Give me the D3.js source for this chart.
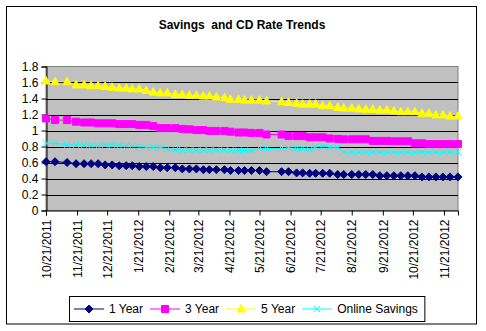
<!DOCTYPE html>
<html>
<head>
<script src="https://d3js.org/d3.v7.min.js"></script>
  <style type="text/css">
    body {
      margin: 0;
      background: #fff;
      font-family: "Liberation Sans", Arial, Helvetica, sans-serif;
    }
    text {
      font-size: 12px;
      fill: #000;
    }
  </style>
</head>
<body>
<script type="text/javascript">

  // data
  var dates = ["10/21/2011","10/30/2011","11/11/2011","11/20/2011","11/28/2011","12/5/2011","12/12/2011","12/19/2011","12/26/2011",
    "1/2/2012","1/9/2012","1/15/2012","1/22/2012","1/29/2012","2/5/2012","2/12/2012","2/19/2012","2/27/2012",
    "3/5/2012","3/12/2012","3/19/2012","3/26/2012","4/1/2012","4/8/2012","4/16/2012","4/22/2012","4/30/2012",
    "5/6/2012","5/13/2012","5/21/2012","5/28/2012","6/12/2012","6/19/2012","6/27/2012","7/3/2012","7/10/2012",
    "7/16/2012","7/23/2012","7/30/2012","8/7/2012","8/13/2012","8/21/2012","8/28/2012","9/4/2012","9/11/2012",
    "9/18/2012","9/25/2012","10/2/2012","10/9/2012","10/16/2012","10/23/2012","10/30/2012","11/6/2012","11/13/2012",
    "11/20/2012","11/27/2012","12/5/2012"];

  var oneYear = [0.61,0.61,0.60,0.585,0.585,0.585,0.585,0.57,0.57,0.56,0.56,0.56,0.55,0.55,0.55,0.535,0.535,0.535,
    0.52,0.52,0.52,0.51,0.51,0.51,0.51,0.50,0.50,0.50,
    0.50,0.50,0.485,0.485,0.485,0.47,0.47,0.465,0.465,0.465,0.465,0.45,0.45,0.45,0.45,0.45,0.45,
    0.435,0.435,0.435,0.435,0.435,0.435,0.42,0.42,0.42,0.42,0.42,0.42];

  var threeYear = [1.15,1.13,1.13,1.11,1.10,1.10,1.09,1.09,1.09,1.08,1.08,1.08,1.07,1.07,
    1.055,1.03,1.03,1.03,1.02,1.015,1.005,1.005,0.995,0.995,0.995,0.985,0.975,0.975,0.97,
    0.97,0.95,0.95,0.93,0.93,0.93,0.915,0.915,0.915,0.90,0.895,0.89,0.89,0.89,
    0.89,0.87,0.87,0.87,0.865,0.865,0.865,0.84,0.84,0.83,0.83,0.83,0.83,0.83];

  var fiveYear = [1.62,1.61,1.61,1.57,1.57,1.56,1.56,1.55,1.54,1.53,1.53,1.52,1.52,1.50,
    1.48,1.47,1.47,1.45,1.45,1.44,1.44,1.43,1.43,1.42,1.41,1.39,1.39,1.38,1.38,
    1.38,1.37,1.36,1.35,1.34,1.33,1.33,1.33,1.31,1.31,1.29,1.28,1.28,1.27,
    1.265,1.265,1.255,1.255,1.245,1.235,1.235,1.235,1.215,1.215,1.195,1.195,1.18,1.18];

  var onlineSavings = [0.84,0.84,0.82,0.82,0.82,0.81,0.81,0.82,0.82,0.81,0.81,0.81,0.80,
    0.79,0.79,0.79,0.77,0.76,0.755,0.755,0.755,0.755,0.755,0.755,0.755,0.755,0.75,0.75,0.745,
    0.775,0.775,0.775,0.785,0.775,0.775,0.765,0.795,0.805,0.79,0.79,
    0.73,0.73,0.73,0.73,0.73,0.73,0.73,0.73,0.73,0.73,0.73,0.73,0.73,0.73,0.73,0.73,0.73];

  var seriesNames = ["1 Year", "3 Year", "5 Year", "Online Savings"];
  var seriesColors = ["#000080", "#ff00ff", "#ffff00", "#00ffff"];
  var seriesMarkers = ["diamond", "square", "triangle", "cross"];

  var yTicks = [0, 0.2, 0.4, 0.6, 0.8, 1, 1.2, 1.4, 1.6, 1.8];
  var xTickLabels = ["10/21/2011","11/21/2011","12/21/2011","1/21/2012","2/21/2012","3/21/2012","4/21/2012",
    "5/21/2012","6/21/2012","7/21/2012","8/21/2012","9/21/2012","10/21/2012","11/21/2012"];

  var W = 486, H = 331;
  var plot = {left: 46, right: 458, top: 66.5, bottom: 210.5};

  var parse = d3.timeParse("%m/%d/%Y");
  var fmt = d3.timeFormat("%-m/%-d/%Y");
  var dateVals = dates.map(parse);

  var x = d3.scaleTime()
      .domain(d3.extent(dateVals))
      .range([plot.left, plot.right]);
  var y = d3.scaleLinear()
      .domain([0, 1.8])
      .range([plot.bottom, plot.top]);

  var svg = d3.select("body").append("svg")
      .attr("width", W)
      .attr("height", H);

  // chart border
  svg.append("rect")
      .attr("x", 6.5).attr("y", 6.5)
      .attr("width", 470).attr("height", 317.5)
      .attr("fill", "#fff")
      .attr("stroke", "#000");

  svg.append("text")
      .attr("x", 242).attr("y", 29)
      .attr("text-anchor", "middle")
      .style("font-weight", "bold")
      .style("white-space", "pre")
      .text("Savings  and CD Rate Trends");

  // plot area
  svg.append("rect")
      .attr("x", plot.left).attr("y", plot.top)
      .attr("width", plot.right - plot.left)
      .attr("height", plot.bottom - plot.top)
      .attr("fill", "#c0c0c0")
      .attr("stroke", "#808080");

  // gridlines
  svg.append("g").selectAll("line")
      .data(yTicks.filter(function(d) { return d > 0 && d < 1.8; }))
    .enter().append("line")
      .attr("x1", plot.left).attr("x2", plot.right)
      .attr("y1", function(d) { return Math.round(y(d)) + 0.5; })
      .attr("y2", function(d) { return Math.round(y(d)) + 0.5; })
      .attr("stroke", "#000");

  // y axis
  var yAxis = svg.append("g")
      .attr("transform", "translate(" + (plot.left + 0.5) + ",0)")
      .call(d3.axisLeft(y).tickValues(yTicks).tickSize(5).tickPadding(3)
        .tickFormat(function(d) { return String(d); }));
  yAxis.select(".domain").attr("stroke", "#000");
  yAxis.selectAll("text").style("font-size", "12px").style("font-family", "Liberation Sans, Arial, sans-serif");

  // x axis
  var xAxis = svg.append("g")
      .attr("transform", "translate(0," + plot.bottom + ")")
      .call(d3.axisBottom(x).tickValues(xTickLabels.map(parse)).tickSize(5).tickFormat(fmt));
  xAxis.select(".domain").attr("stroke", "#000");
  xAxis.selectAll("text")
      .style("font-size", "12px")
      .style("font-family", "Liberation Sans, Arial, sans-serif")
      .attr("text-anchor", "end")
      .attr("transform", "rotate(-90)")
      .attr("x", -9)
      .attr("y", 0)
      .attr("dy", "0.35em");

  // marker shapes
  function markerPath(type) {
    if (type == "diamond") return "M0,-4L4,0L0,4L-4,0Z";
    if (type == "square") return "M-3.5,-3.5H3.5V3.5H-3.5Z";
    if (type == "triangle") return "M0,-4.5L4,3L-4,3Z";
    return "M-3,-3L3,3M-3,3L3,-3";
  }

  var allSeries = [oneYear, threeYear, fiveYear, onlineSavings];

  var line = d3.line()
      .x(function(d) { return x(d.date); })
      .y(function(d) { return y(d.value); });

  allSeries.forEach(function(vals, s) {
    var pts = vals.map(function(v, i) { return {date: dateVals[i], value: v}; });
    var g = svg.append("g");
    g.append("path")
        .datum(pts)
        .attr("d", line)
        .attr("fill", "none")
        .attr("stroke", seriesColors[s])
        .attr("stroke-width", 1);
    g.selectAll(".m")
        .data(pts)
      .enter().append("path")
        .attr("class", "m")
        .attr("transform", function(d) { return "translate(" + x(d.date) + "," + y(d.value) + ")"; })
        .attr("d", markerPath(seriesMarkers[s]))
        .attr("fill", seriesMarkers[s] == "cross" ? "none" : seriesColors[s])
        .attr("stroke", seriesColors[s])
        .attr("stroke-width", 1);
  });

  // legend
  var legend = svg.append("g");
  var legendBox = legend.append("rect")
      .attr("y", 296.5).attr("height", 25)
      .attr("fill", "#fff").attr("stroke", "#000");
  var lx = 74, ly = 309;
  seriesNames.forEach(function(name, s) {
    var item = legend.append("g");
    item.append("line")
        .attr("x1", lx).attr("x2", lx + 30)
        .attr("y1", ly).attr("y2", ly)
        .attr("stroke", seriesColors[s]);
    item.append("path")
        .attr("transform", "translate(" + (lx + 15) + "," + ly + ")")
        .attr("d", markerPath(seriesMarkers[s]))
        .attr("fill", seriesMarkers[s] == "cross" ? "none" : seriesColors[s])
        .attr("stroke", seriesColors[s]);
    var t = item.append("text")
        .attr("x", lx + 35).attr("y", ly)
        .attr("dy", "0.35em")
        .text(name);
    lx = lx + 35 + t.node().getComputedTextLength() + 7;
  });
  legendBox.attr("x", 69.5).attr("width", lx - 69.5);

</script>
</body>
</html>
